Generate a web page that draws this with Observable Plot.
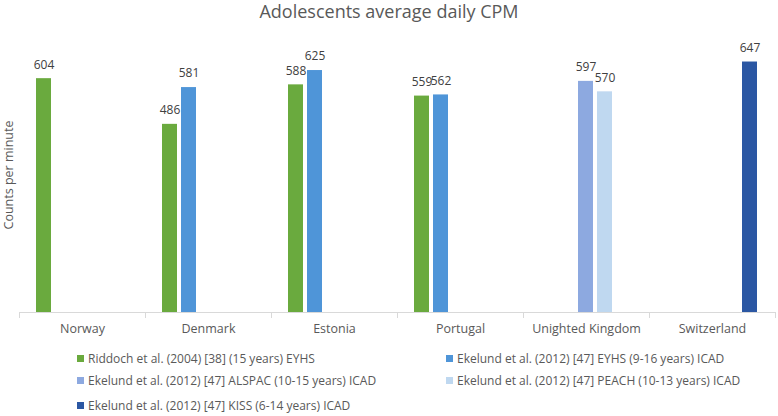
<!DOCTYPE html>
<html><head><meta charset="utf-8">
<script src="https://cdn.jsdelivr.net/npm/d3@7"></script>
<script src="https://cdn.jsdelivr.net/npm/@observablehq/plot@0.6"></script>
<style>
body{margin:0;background:#fff;font-family:"Open Sans",sans-serif;}
#wrap{position:relative;width:778px;height:416px;overflow:hidden;background:#fff}
#title{position:absolute;left:0;top:0;width:778px;text-align:center;font-size:18px;color:#595959;line-height:22px}
#chart{position:absolute;left:0;top:26px}
#ylab{position:absolute;left:8px;top:175px;transform:translate(-50%,-50%) rotate(-90deg);font-size:12.5px;color:#595959;white-space:nowrap}
.leg{position:absolute;font-size:12px;color:#595959;white-space:nowrap;line-height:14px;transform:translateY(-50%)}
.leg .sw{display:inline-block;width:7px;height:7px;margin-right:4px;vertical-align:middle;position:relative;top:-1px}
</style></head><body>
<div id="wrap">
  <div id="title">Adolescents average daily CPM</div>
  <div id="chart"></div>
  <div id="ylab">Counts per minute</div>
  <div id="legend"></div>
</div>
<script>
const countries = ["Norway", "Denmark", "Estonia", "Portugal", "Unighted Kingdom", "Switzerland"];
const series = [
  "Riddoch et al. (2004) [38] (15 years) EYHS",
  "Ekelund et al. (2012) [47] EYHS (9-16 years) ICAD",
  "Ekelund et al. (2012) [47] ALSPAC (10-15 years) ICAD",
  "Ekelund et al. (2012) [47] PEACH (10-13 years) ICAD",
  "Ekelund et al. (2012) [47] KISS (6-14 years) ICAD"
];
const colors = ["#6aaa3e", "#4f95d8", "#8da9e0", "#bfd8f0", "#2b57a3"];
const riddochEYHS = [604, 486, 588, 559, null, null];
const ekelundEYHS = [null, 581, 625, 562, null, null];
const ekelundALSPAC = [null, null, null, null, 597, null];
const ekelundPEACH = [null, null, null, null, 570, null];
const ekelundKISS = [null, null, null, null, null, 647];

const values = [riddochEYHS, ekelundEYHS, ekelundALSPAC, ekelundPEACH, ekelundKISS];
const rows = [];
countries.forEach((c, i) => series.forEach((s, j) => {
  const v = values[j][i];
  if (v != null) rows.push({country: c, series: s, value: v});
}));

const chart = Plot.plot({
  width: 778, height: 318,
  marginLeft: 17, marginRight: 2, marginTop: 15, marginBottom: 32,
  fx: {domain: countries, padding: 0, label: null},
  x: {domain: series, paddingInner: 0.2, paddingOuter: 0.84, axis: null},
  y: {domain: [0, 700], axis: null},
  color: {domain: series, range: colors},
  style: {fontFamily: "'Open Sans', sans-serif", fontSize: "12px", color: "#595959", background: "#fff"},
  marks: [
    Plot.barY(rows, {fx: "country", x: "series", y: "value", fill: "series"}),
    Plot.ruleY([0], {stroke: "#d9d9d9"}),
    Plot.frame({anchor: "left", stroke: "#d9d9d9", insetTop: 271, insetBottom: -5}),
    Plot.frame({anchor: "right", stroke: "#d9d9d9", insetTop: 271, insetBottom: -5}),
    Plot.text(rows, {fx: "country", x: "series", y: "value", text: "value", dy: -14, fill: "#404040", fontSize: 12}),
    Plot.axisFx({anchor: "bottom", tickSize: 0, tickPadding: 12, label: null, fontSize: 12.5, fill: "#595959"})
  ]
});
document.getElementById("chart").appendChild(chart);

const legend = document.getElementById("legend");
const legX = [77, 446];
const legY = [359, 381, 406];
series.forEach((s, i) => {
  const d = document.createElement("div");
  d.className = "leg";
  d.style.left = legX[i % 2] + "px";
  d.style.top = legY[Math.floor(i / 2)] + "px";
  const sw = document.createElement("span");
  sw.className = "sw";
  sw.style.background = colors[i];
  d.appendChild(sw);
  d.appendChild(document.createTextNode(s));
  legend.appendChild(d);
});
</script>
</body></html>
